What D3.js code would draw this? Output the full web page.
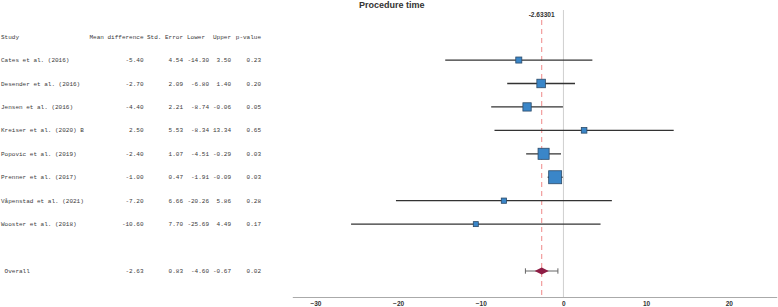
<!DOCTYPE html>
<html>
<head>
<meta charset="utf-8">
<script src="https://cdn.jsdelivr.net/npm/d3@7"></script>
<style>
  body { margin: 0; background: #fff; }
  svg { display: block; }
</style>
</head>
<body>
<svg id="chart" width="778" height="307"></svg>
<script>
const studies = ["Cates et al. (2016)", "Desender et al. (2016)", "Jensen et al. (2016)", "Kreiser et al. (2020) B",
    "Popovic et al. (2019)", "Prenner et al. (2017)", "Våpenstad et al. (2021)", "Wooster et al. (2018)"];
const meanDiff = [-5.40, -2.70, -4.40, 2.50, -2.40, -1.00, -7.20, -10.60];
const stdErr = [4.54, 2.09, 2.21, 5.53, 1.07, 0.47, 6.66, 7.70];
const lower = [-14.30, -6.80, -8.74, -8.34, -4.51, -1.91, -20.26, -25.69];
const upper = [3.50, 1.40, -0.06, 13.34, -0.29, -0.09, 5.86, 4.49];
const pValue = [0.23, 0.20, 0.05, 0.65, 0.03, 0.03, 0.28, 0.17];
// approx. random-effects weights (%)
const weights = [3.1, 11.9, 10.9, 2.1, 27.0, 42.3, 1.5, 1.1];

const overall = { label: "Overall", md: -2.63, se: 0.83, lower: -4.60, upper: -0.67, p: 0.02 };
const pooled = -2.63301;
const headers = ["Study", "Mean difference", "Std. Error", "Lower", "Upper", "p-value"];
const xTicks = [-30, -20, -10, 0, 10, 20];

const svg = d3.select("#chart");

const x = d3.scaleLinear().domain([-32.8, 25.8]).range([292.3, 776.7]);
const y = d3.scaleLinear().domain([-1, 9]).range([36.6, 271]);
const size = d3.scaleSqrt().domain(d3.extent(weights)).range([5, 13]);
const axisY = 297;

const rows = studies.map((s, i) => ({
    study: s, md: meanDiff[i], se: stdErr[i], lo: lower[i], hi: upper[i], p: pValue[i], w: weights[i], idx: i
}));

// ---- table ----
const table = svg.append("g")
    .attr("font-family", "'Liberation Mono', 'DejaVu Sans Mono', monospace")
    .attr("font-size", 6)
    .attr("fill", "#3a3a3a");

const cols = [
    { x: 1, anchor: "start", get: d => d.study },
    { x: 143.5, anchor: "end", get: d => d.md.toFixed(2) },
    { x: 183, anchor: "end", get: d => d.se.toFixed(2) },
    { x: 209, anchor: "end", get: d => d.lo.toFixed(2) },
    { x: 231, anchor: "end", get: d => d.hi.toFixed(2) },
    { x: 261, anchor: "end", get: d => d.p.toFixed(2) }
];
const headerX = [1, 143.5, 183, 187, 231, 261];
const headerAnchor = ["start", "end", "end", "start", "end", "end"];

headers.forEach((h, j) => {
    table.append("text")
        .attr("x", headerX[j])
        .attr("y", y(-1))
        .attr("dy", "0.35em")
        .attr("text-anchor", headerAnchor[j])
        .text(h);
});

rows.forEach(d => {
    cols.forEach(c => {
        table.append("text")
            .attr("x", c.x)
            .attr("y", y(d.idx))
            .attr("dy", "0.35em")
            .attr("text-anchor", c.anchor)
            .text(c.get(d));
    });
});

const ovRow = { study: " Overall", md: overall.md, se: overall.se, lo: overall.lower, hi: overall.upper, p: overall.p };
cols.forEach(c => {
    table.append("text")
        .attr("x", c.x)
        .attr("y", y(9))
        .attr("dy", "0.35em")
        .attr("text-anchor", c.anchor)
        .attr("xml:space", "preserve")
        .text(c.get(ovRow));
});

// ---- title ----
svg.append("text")
    .attr("x", 359)
    .attr("y", 7.5)
    .attr("font-family", "'Liberation Sans', Arial, sans-serif")
    .attr("font-weight", "bold")
    .attr("font-size", 9)
    .attr("fill", "#333")
    .text("Procedure time");

// ---- reference lines ----
svg.append("line")
    .attr("x1", x(0)).attr("x2", x(0))
    .attr("y1", 10).attr("y2", axisY)
    .attr("stroke", "#cfcfcf")
    .attr("stroke-width", 1);

svg.append("line")
    .attr("x1", x(pooled)).attr("x2", x(pooled))
    .attr("y1", 20).attr("y2", axisY)
    .attr("stroke", "#f29c9c")
    .attr("stroke-width", 1.2)
    .attr("stroke-dasharray", "5,4");

svg.append("text")
    .attr("x", x(pooled))
    .attr("y", 15)
    .attr("dy", "0.35em")
    .attr("text-anchor", "middle")
    .attr("font-family", "'Liberation Sans', Arial, sans-serif")
    .attr("font-weight", "bold")
    .attr("font-size", 6.6)
    .attr("fill", "#333")
    .text(pooled);

// ---- study CIs and squares ----
const marks = svg.append("g");
marks.selectAll("line.ci")
    .data(rows)
    .enter().append("line")
    .attr("class", "ci")
    .attr("x1", d => x(d.lo))
    .attr("x2", d => x(d.hi))
    .attr("y1", d => y(d.idx))
    .attr("y2", d => y(d.idx))
    .attr("stroke", "#333")
    .attr("stroke-width", 1.3);

marks.selectAll("rect.box")
    .data(rows)
    .enter().append("rect")
    .attr("class", "box")
    .attr("x", d => x(d.md) - size(d.w) / 2)
    .attr("y", d => y(d.idx) - size(d.w) / 2)
    .attr("width", d => size(d.w))
    .attr("height", d => size(d.w))
    .attr("fill", "#3a86c8")
    .attr("stroke", "#2b4a68")
    .attr("stroke-width", 0.8);

// ---- overall ----
const oy = y(9);
const ov = svg.append("g");
ov.append("line")
    .attr("x1", x(overall.lower)).attr("x2", x(overall.upper))
    .attr("y1", oy).attr("y2", oy)
    .attr("stroke", "#666").attr("stroke-width", 1);
[overall.lower, overall.upper].forEach(v => {
    ov.append("line")
        .attr("x1", x(v)).attr("x2", x(v))
        .attr("y1", oy - 2.7).attr("y2", oy + 2.7)
        .attr("stroke", "#666").attr("stroke-width", 1);
});
const cx = x(overall.md);
ov.append("path")
    .attr("d", `M${cx - 7},${oy}L${cx},${oy - 3.5}L${cx + 7},${oy}L${cx},${oy + 3.5}Z`)
    .attr("fill", "#8e1c44");

// ---- axis ----
const axis = svg.append("g")
    .attr("transform", `translate(0,${axisY})`)
    .call(d3.axisBottom(x).tickValues(xTicks).tickSize(0).tickPadding(4).tickFormat(d3.format("d")));
axis.select(".domain").attr("stroke", "#aaa").attr("stroke-width", 1.2);
axis.selectAll("text")
    .attr("font-family", "'Liberation Sans', Arial, sans-serif")
    .attr("font-weight", "bold")
    .attr("font-size", 6.5)
    .attr("fill", "#333");
</script>
</body>
</html>
